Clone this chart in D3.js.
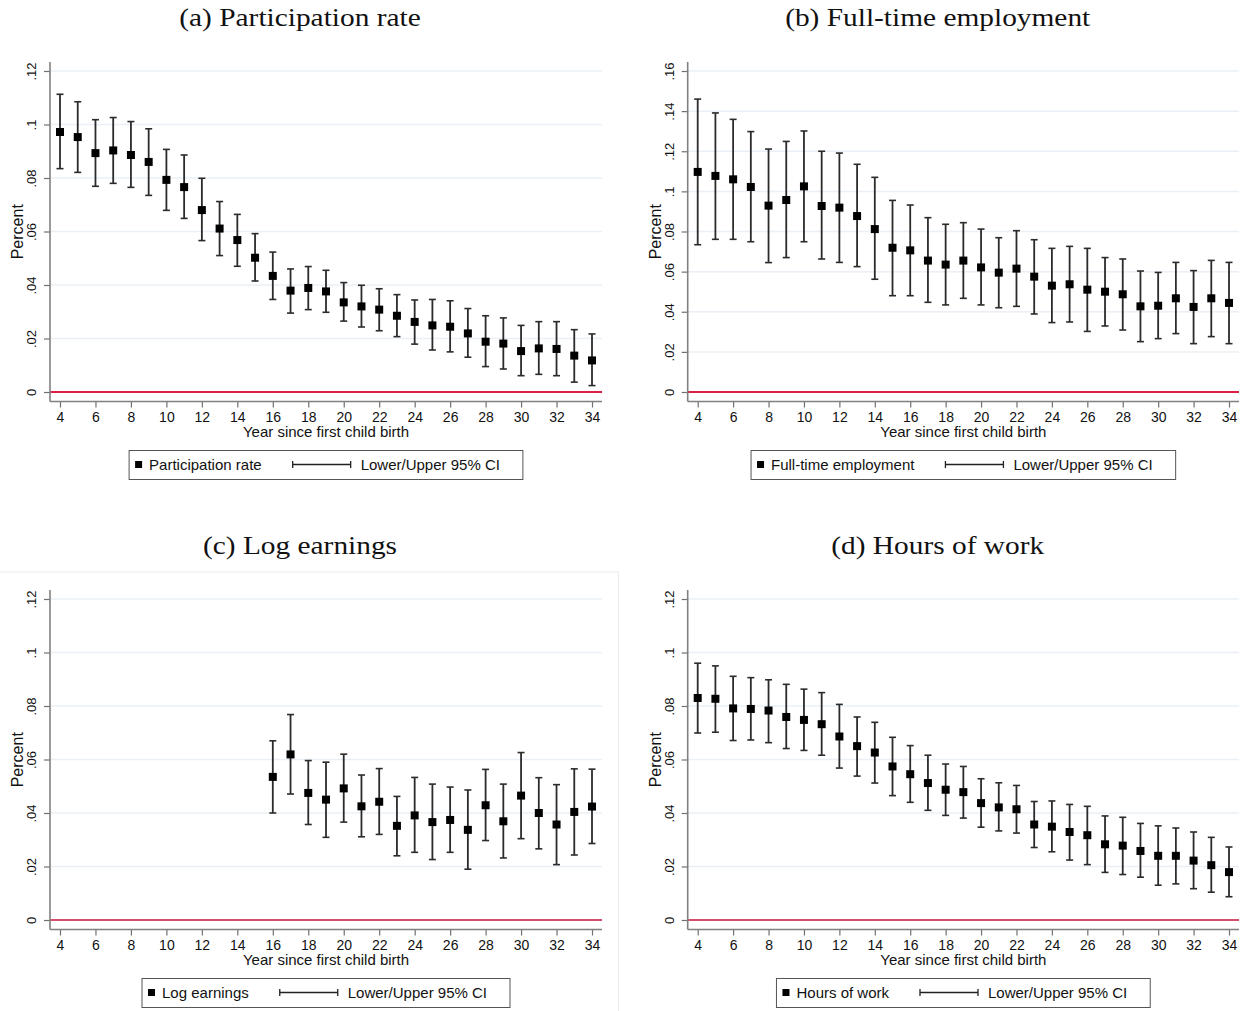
<!DOCTYPE html>
<html>
<head>
<meta charset="utf-8">
<script src="https://cdn.jsdelivr.net/npm/d3@7"></script>
<style>
  body { margin: 0; background: #fff; }
</style>
</head>
<body>
<div id="chart"></div>
<script>
// ---- data ----
var panelTitles = ['(a) Participation rate', '(b) Full-time employment', '(c) Log earnings', '(d) Hours of work'];
var seriesNames = ['Participation rate', 'Full-time employment', 'Log earnings', 'Hours of work'];
var ciName = 'Lower/Upper 95% CI';
var xLabel = 'Year since first child birth';
var yLabel = 'Percent';

var yearsAll = [4,5,6,7,8,9,10,11,12,13,14,15,16,17,18,19,20,21,22,23,24,25,26,27,28,29,30,31,32,33,34];
var yearsLate = [16,17,18,19,20,21,22,23,24,25,26,27,28,29,30,31,32,33,34];
var xTicks = [4,6,8,10,12,14,16,18,20,22,24,26,28,30,32,34];
var yTicks12 = [0,0.02,0.04,0.06,0.08,0.1,0.12];
var yTicks16 = [0,0.02,0.04,0.06,0.08,0.1,0.12,0.14,0.16];

var partRate = [0.0972,0.0953,0.0893,0.0903,0.0886,0.0860,0.0793,0.0766,0.0680,0.0611,0.0568,0.0502,0.0434,0.0379,0.0389,0.0376,0.0335,0.0320,0.0308,0.0285,0.0262,0.0249,0.0244,0.0219,0.0188,0.0181,0.0153,0.0163,0.0161,0.0136,0.0118];
var partLo = [0.0835,0.0821,0.0769,0.0780,0.0765,0.0735,0.0679,0.0649,0.0566,0.0510,0.0470,0.0415,0.0346,0.0295,0.0308,0.0298,0.0265,0.0243,0.0229,0.0207,0.0179,0.0157,0.0150,0.0130,0.0095,0.0086,0.0061,0.0066,0.0061,0.0037,0.0024];
var partHi = [0.1113,0.1085,0.1018,0.1026,0.1011,0.0984,0.0907,0.0886,0.0799,0.0712,0.0664,0.0592,0.0523,0.0460,0.0469,0.0455,0.0409,0.0399,0.0386,0.0364,0.0344,0.0346,0.0341,0.0312,0.0285,0.0277,0.0249,0.0263,0.0263,0.0233,0.0217];

var fullTime = [0.1097,0.1077,0.1060,0.1022,0.0929,0.0957,0.1025,0.0927,0.0919,0.0877,0.0812,0.0719,0.0706,0.0655,0.0635,0.0655,0.0621,0.0595,0.0615,0.0575,0.0530,0.0537,0.0510,0.0500,0.0487,0.0427,0.0430,0.0467,0.0424,0.0467,0.0444];
var fullLo = [0.0734,0.0761,0.0761,0.0749,0.0645,0.0670,0.0749,0.0663,0.0646,0.0625,0.0562,0.0480,0.0480,0.0447,0.0434,0.0467,0.0434,0.0420,0.0427,0.0389,0.0346,0.0349,0.0302,0.0329,0.0309,0.0251,0.0266,0.0291,0.0241,0.0276,0.0241];
var fullHi = [0.1460,0.1391,0.1359,0.1298,0.1211,0.1249,0.1301,0.1200,0.1191,0.1135,0.1070,0.0955,0.0932,0.0869,0.0836,0.0844,0.0812,0.0769,0.0804,0.0759,0.0716,0.0726,0.0716,0.0670,0.0663,0.0603,0.0596,0.0646,0.0605,0.0656,0.0646];

var logEarn = [0.0535,0.0619,0.0475,0.0450,0.0492,0.0425,0.0442,0.0352,0.0391,0.0366,0.0374,0.0337,0.0429,0.0369,0.0465,0.0400,0.0357,0.0404,0.0424];
var logLo = [0.0400,0.0471,0.0357,0.0309,0.0366,0.0311,0.0320,0.0240,0.0253,0.0226,0.0253,0.0190,0.0297,0.0232,0.0304,0.0266,0.0207,0.0243,0.0286];
var logHi = [0.0670,0.0768,0.0596,0.0590,0.0620,0.0542,0.0566,0.0462,0.0533,0.0508,0.0497,0.0486,0.0563,0.0508,0.0626,0.0532,0.0506,0.0565,0.0564];

var hours = [0.0830,0.0827,0.0791,0.0789,0.0783,0.0759,0.0748,0.0732,0.0686,0.0650,0.0626,0.0574,0.0545,0.0512,0.0487,0.0478,0.0437,0.0421,0.0414,0.0357,0.0349,0.0329,0.0317,0.0283,0.0278,0.0258,0.0240,0.0240,0.0222,0.0205,0.0179];
var hoursLo = [0.0699,0.0702,0.0671,0.0673,0.0663,0.0641,0.0634,0.0616,0.0568,0.0538,0.0512,0.0465,0.0440,0.0410,0.0391,0.0381,0.0347,0.0333,0.0325,0.0271,0.0255,0.0224,0.0207,0.0178,0.0170,0.0160,0.0130,0.0135,0.0117,0.0104,0.0087];
var hoursHi = [0.0960,0.0950,0.0911,0.0906,0.0898,0.0881,0.0863,0.0850,0.0806,0.0759,0.0739,0.0683,0.0652,0.0616,0.0583,0.0574,0.0528,0.0513,0.0503,0.0443,0.0445,0.0432,0.0425,0.0389,0.0384,0.0361,0.0352,0.0344,0.0329,0.0309,0.0273];

// ---- layout ----
var width = 1245, height = 1011;
var colLeft = [50, 687.7], colRight = [602, 1239];
var rowOffset = 528;
var sans = 'Liberation Sans, Arial, sans-serif';
var serif = 'Liberation Serif, Times New Roman, serif';

var panels = [
  { years: yearsAll,  est: partRate, lo: partLo,  hi: partHi,  yTicks: yTicks12, col: 0, row: 0, zeroColor: '#dc1f45' },
  { years: yearsAll,  est: fullTime, lo: fullLo,  hi: fullHi,  yTicks: yTicks16, col: 1, row: 0, zeroColor: '#dc1f45' },
  { years: yearsLate, est: logEarn,  lo: logLo,   hi: logHi,   yTicks: yTicks12, col: 0, row: 1, zeroColor: '#d4506e' },
  { years: yearsAll,  est: hours,    lo: hoursLo, hi: hoursHi, yTicks: yTicks12, col: 1, row: 1, zeroColor: '#d4506e' }
];

var stataFmt = function(v){ return v === 0 ? '0' : d3.format('.2~f')(v).replace(/^0/, ''); };

var svg = d3.select('#chart').append('svg')
  .attr('width', width).attr('height', height)
  .style('background', '#fff');

// faint graph-region outline around panel (c)
svg.append('rect')
  .attr('x', -1).attr('y', 572).attr('width', 619.5).attr('height', 460)
  .attr('fill', 'none').attr('stroke', '#e8ebf1').attr('stroke-width', 1);

panels.forEach(function(p, i){
  var left = colLeft[p.col], right = colRight[p.col];
  var dy = p.row * rowOffset;
  var axisTop = 62 + dy, axisBottom = 401.5 + dy;

  var x = d3.scaleLinear().domain([4, 34]).range([left + 10, right - 10]);
  var y = d3.scaleLinear().domain([0, d3.max(p.yTicks)]).range([392 + dy, 71 + dy]);

  var g = svg.append('g');

  // title
  var tx = left + 250, ty = 26 + dy;
  g.append('text')
    .attr('transform', 'translate(' + tx + ',' + ty + ') scale(1.13,1)')
    .attr('text-anchor', 'middle')
    .style('font-family', serif).style('font-size', '26px').attr('fill', '#111')
    .text(panelTitles[i]);

  // gridlines
  g.selectAll('.grid').data(p.yTicks.filter(function(v){ return v > 0; }))
    .enter().append('line')
    .attr('x1', left).attr('x2', right)
    .attr('y1', function(d){ return y(d); }).attr('y2', function(d){ return y(d); })
    .attr('stroke', '#eaf0f6').attr('stroke-width', 1.5);

  // zero reference line
  g.append('line')
    .attr('x1', left).attr('x2', right)
    .attr('y1', y(0)).attr('y2', y(0))
    .attr('stroke', p.zeroColor).attr('stroke-width', 1.8);

  // y axis
  var yAxis = g.append('g')
    .attr('transform', 'translate(' + left + ',0)')
    .call(d3.axisLeft(y).tickValues(p.yTicks).tickFormat(stataFmt).tickSize(6).tickSizeOuter(0));
  yAxis.select('.domain').remove();
  yAxis.selectAll('.tick line').attr('stroke', '#707070').attr('stroke-width', 1.2);
  yAxis.selectAll('.tick text')
    .attr('x', null).attr('dy', null)
    .attr('transform', 'translate(-14,0) rotate(-90)')
    .attr('text-anchor', 'middle')
    .style('font-family', sans).style('font-size', '13px').attr('fill', '#111');
  g.append('line')
    .attr('x1', left).attr('x2', left).attr('y1', axisTop).attr('y2', axisBottom)
    .attr('stroke', '#808080').attr('stroke-width', 1.6);

  // x axis
  var xAxis = g.append('g')
    .attr('transform', 'translate(0,' + axisBottom + ')')
    .call(d3.axisBottom(x).tickValues(xTicks).tickSize(6).tickSizeOuter(0));
  xAxis.select('.domain').remove();
  xAxis.selectAll('.tick line').attr('stroke', '#707070').attr('stroke-width', 1.2);
  xAxis.selectAll('.tick text')
    .attr('y', 11).attr('dy', '0.71em')
    .style('font-family', sans).style('font-size', '14px').attr('fill', '#111');
  g.append('line')
    .attr('x1', left).attr('x2', right).attr('y1', axisBottom).attr('y2', axisBottom)
    .attr('stroke', '#808080').attr('stroke-width', 1.6);

  // axis titles
  var cx = (left + right) / 2;
  g.append('text')
    .attr('x', cx).attr('y', 437 + dy)
    .attr('text-anchor', 'middle')
    .style('font-family', sans).style('font-size', '15px').attr('fill', '#111')
    .text(xLabel);
  g.append('text')
    .attr('transform', 'translate(' + (left - 27) + ',' + ((axisTop + axisBottom) / 2) + ') rotate(-90)')
    .attr('text-anchor', 'middle')
    .style('font-family', sans).style('font-size', '16px').attr('fill', '#111')
    .text(yLabel);

  // error bars
  var rows = p.years.map(function(yr, k){ return { year: yr, est: p.est[k], lo: p.lo[k], hi: p.hi[k] }; });
  var bars = g.selectAll('.ci').data(rows).enter().append('g').attr('class', 'ci');
  bars.append('line')
    .attr('x1', function(d){ return x(d.year); }).attr('x2', function(d){ return x(d.year); })
    .attr('y1', function(d){ return y(d.lo); }).attr('y2', function(d){ return y(d.hi); })
    .attr('stroke', '#2b2b2b').attr('stroke-width', 1.8);
  ['lo', 'hi'].forEach(function(key){
    bars.append('line')
      .attr('x1', function(d){ return x(d.year) - 3.5; }).attr('x2', function(d){ return x(d.year) + 3.5; })
      .attr('y1', function(d){ return y(d[key]); }).attr('y2', function(d){ return y(d[key]); })
      .attr('stroke', '#2b2b2b').attr('stroke-width', 1.6);
  });
  bars.append('rect')
    .attr('x', function(d){ return x(d.year) - 4; }).attr('y', function(d){ return y(d.est) - 4; })
    .attr('width', 8).attr('height', 8)
    .attr('fill', '#000');

  // legend
  var lg = g.append('g');
  var box = lg.append('rect').attr('fill', '#fff').attr('stroke', '#555').attr('stroke-width', 1);
  var ly = 469.5 + dy;
  var mk = lg.append('rect').attr('width', 7).attr('height', 7).attr('fill', '#000');
  var t1 = lg.append('text').attr('y', ly)
    .style('font-family', sans).style('font-size', '15px').attr('fill', '#111')
    .text(seriesNames[i]);
  var ci = lg.append('g');
  var t2 = lg.append('text').attr('y', ly)
    .style('font-family', sans).style('font-size', '15px').attr('fill', '#111')
    .text(ciName);
  var w1 = t1.node().getComputedTextLength(), w2 = t2.node().getComputedTextLength();
  var boxW = 6 + 7 + 7 + w1 + 31 + 58 + 10 + w2 + 23;
  var bx = cx - boxW / 2;
  box.attr('x', bx).attr('y', 450.5 + dy).attr('width', boxW).attr('height', 29);
  mk.attr('x', bx + 6).attr('y', ly - 8.5);
  t1.attr('x', bx + 20);
  var cx0 = bx + 20 + w1 + 31;
  var midY = ly - 5;
  ci.append('line').attr('x1', cx0).attr('x2', cx0 + 58).attr('y1', midY).attr('y2', midY)
    .attr('stroke', '#222').attr('stroke-width', 1.3);
  [cx0, cx0 + 58].forEach(function(xx){
    ci.append('line').attr('x1', xx).attr('x2', xx).attr('y1', midY - 3.5).attr('y2', midY + 3.5)
      .attr('stroke', '#222').attr('stroke-width', 1.3);
  });
  t2.attr('x', cx0 + 68);
});
</script>
</body>
</html>
